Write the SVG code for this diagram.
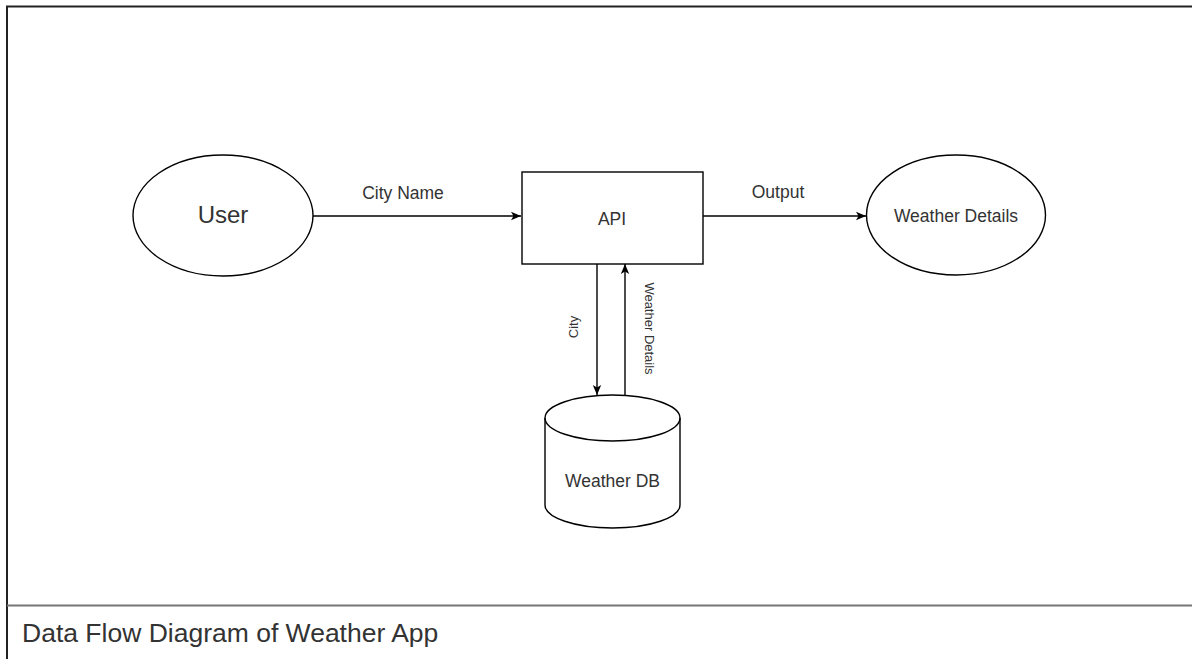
<svg xmlns="http://www.w3.org/2000/svg" width="1192" height="659" viewBox="0 0 1192 659">
<style>
.shape{fill:#fff;stroke:#000;stroke-width:1.4}
.edge{fill:none;stroke:#000;stroke-width:1.4}
.t{font-family:"Liberation Sans",Arial,sans-serif;fill:#333;text-anchor:middle}
.lbl{font-size:17.5px}
</style>
<defs>
<marker id="arr" viewBox="0 0 10 10" refX="10" refY="5" markerWidth="10" markerHeight="10" markerUnits="userSpaceOnUse" orient="auto">
<path d="M0,0.8 L10,5 L0,9.2 L2.5,5 Z" fill="#000"/>
</marker>
</defs>
<rect width="1192" height="659" fill="#fff"/>
<g id="frame">
<path d="M7,659 L7,6.5 L1192,6.5" fill="none" stroke="#222" stroke-width="2"/>
<line x1="7" y1="605.5" x2="1192" y2="605.5" stroke="#777" stroke-width="2"/>
<text class="t" x="22" y="642" style="text-anchor:start;font-size:26.5px">Data Flow Diagram of Weather App</text>
</g>
<g id="connectors">
<line class="edge" x1="313" y1="216" x2="521" y2="216" marker-end="url(#arr)"/>
<text class="t lbl" x="403" y="199">City Name</text>
<line class="edge" x1="703" y1="216" x2="866" y2="216" marker-end="url(#arr)"/>
<text class="t lbl" x="778" y="198">Output</text>
<line class="edge" x1="597" y1="264" x2="597" y2="395" marker-end="url(#arr)"/>
<text class="t" style="font-size:13px" transform="translate(578,327) rotate(-90)">City</text>
<line class="edge" x1="625" y1="395" x2="625" y2="264" marker-end="url(#arr)"/>
<text class="t" style="font-size:13px" transform="translate(645,328.5) rotate(90)">Weather Details</text>
</g>
<g id="user">
<ellipse class="shape" cx="223" cy="215.5" rx="90" ry="60.5"/>
<text class="t" x="223" y="223" style="font-size:24px">User</text>
</g>
<g id="api">
<rect class="shape" x="522" y="172" width="181" height="92"/>
<text class="t lbl" x="612" y="225">API</text>
</g>
<g id="weather-details">
<ellipse class="shape" cx="956" cy="215" rx="89.5" ry="60"/>
<text class="t lbl" x="956" y="222">Weather Details</text>
</g>
<g id="weather-db">
<path class="shape" d="M545,418 A67.5,23 0 0 1 680,418 L680,505 A67.5,23 0 0 1 545,505 Z"/>
<path class="edge" d="M545,418 A67.5,23 0 0 0 680,418"/>
<text class="t lbl" x="612.5" y="487">Weather DB</text>
</g>
</svg>
